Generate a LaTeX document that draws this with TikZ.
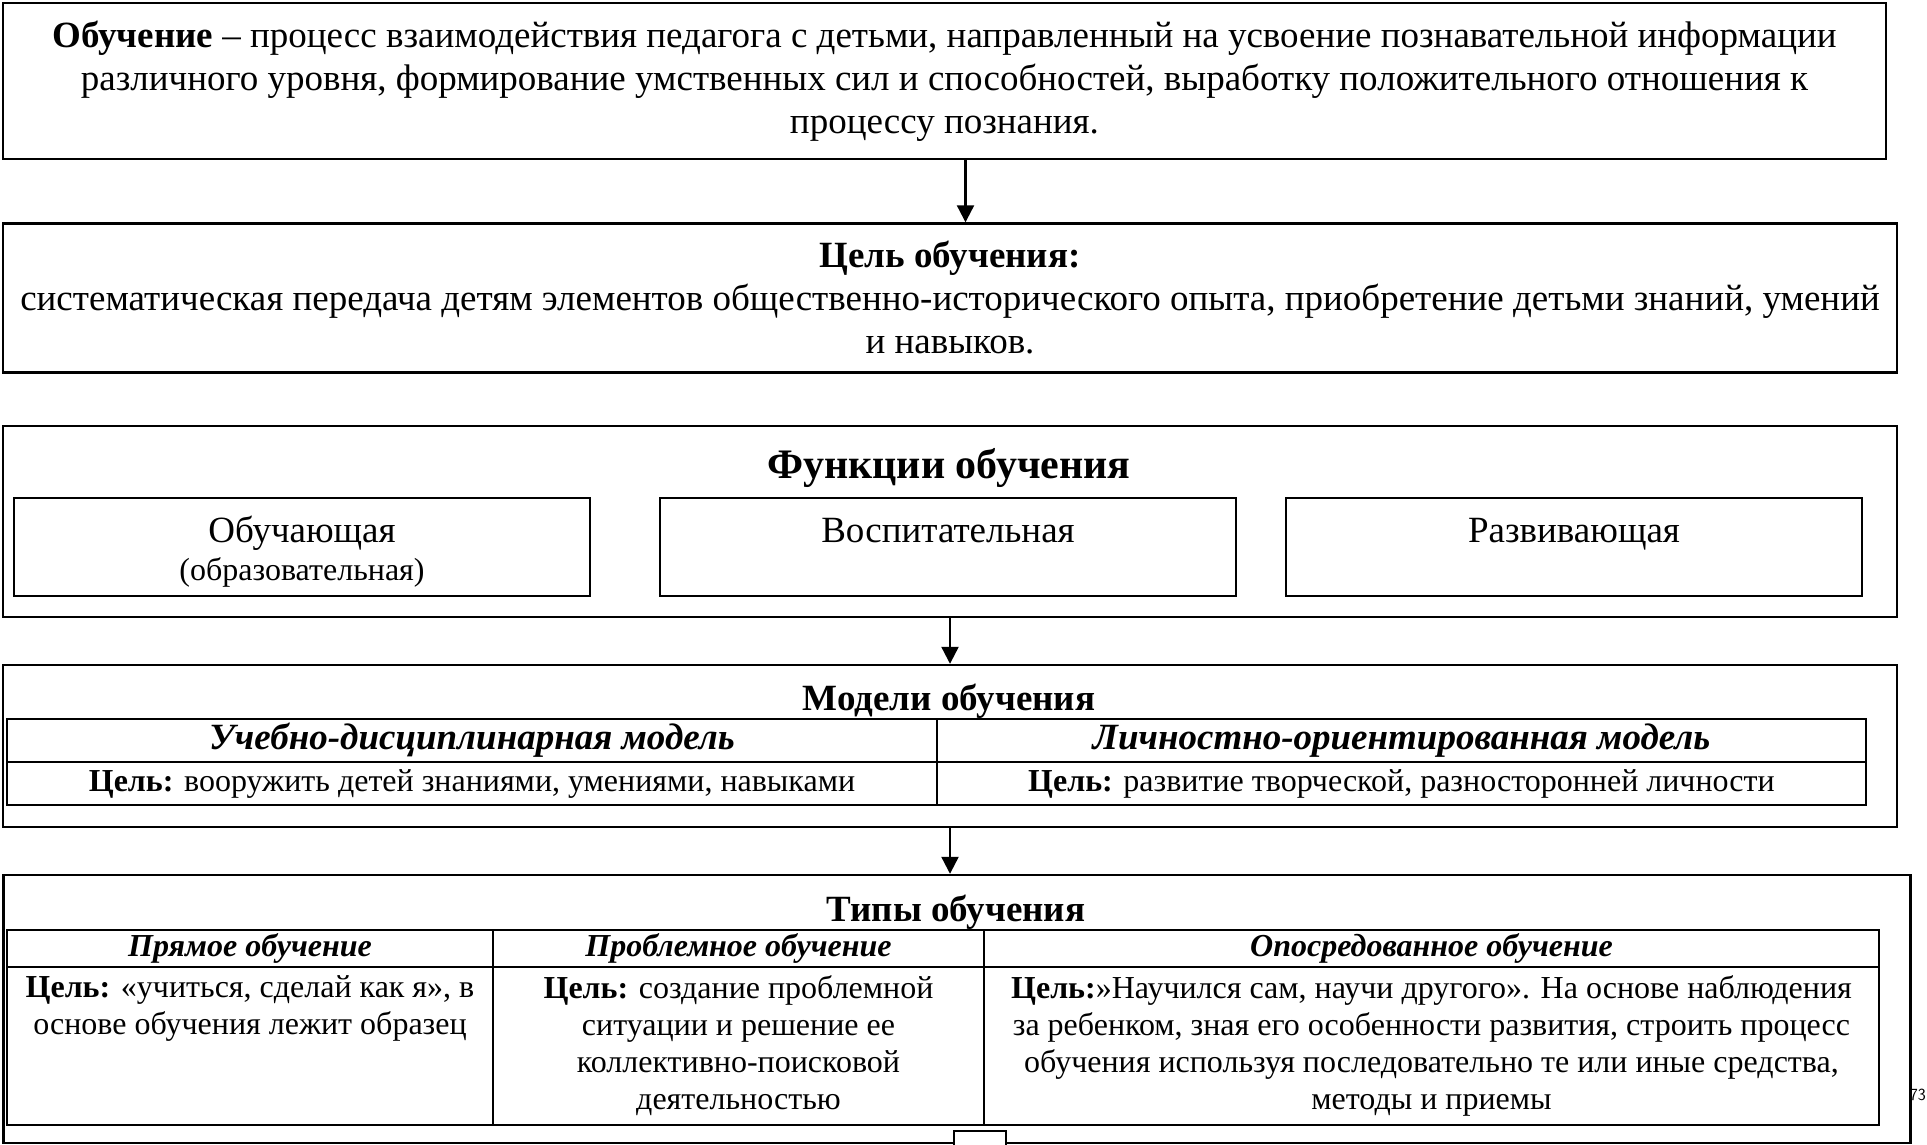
\documentclass[tikz,border=0pt]{standalone}
\usepackage{fontspec}
\setmainfont{Liberation Serif}
\usetikzlibrary{arrows,arrows.meta,calc,positioning}

\newcommand{\bigsz}{\fontsize{37}{43}\selectfont}
\newcommand{\headsz}{\fontsize{42}{48}\selectfont}
\newcommand{\cellsz}{\fontsize{32}{37}\selectfont}
\newcommand{\smallsz}{\fontsize{32}{36}\selectfont}

\tikzset{
  frame/.style={draw, line width=2.4pt, inner sep=0pt, align=center},
  cell/.style={draw, line width=2.2pt, inner sep=0pt},
  fname/.style={font=\bigsz, text height=26pt, text depth=8pt},
  arr/.style={-{Triangle[length=17pt,width=17pt]}, line width=2.2pt},
}

\begin{document}
\begin{tikzpicture}[x=1pt,y=1pt]
        \useasboundingbox (0,0) rectangle (1927,-1145);
        % Определение
        \node[frame, minimum width=1883pt, minimum height=156pt, font=\bigsz] (defbox) at (944.5,-81)
          {\textbf{Обучение} – процесс взаимодействия педагога с детьми, направленный на усвоение  познавательной информации\\
           различного уровня, формирование умственных сил и способностей,  выработку положительного отношения к\\
           процессу познания.};
        % Цель
        \node[frame, minimum width=1894pt, minimum height=149pt, font=\bigsz] (goalbox) at (950,-298)
          {\textbf{Цель обучения:}\\
           систематическая передача детям элементов общественно-исторического опыта, приобретение детьми знаний, умений\\
           и навыков.};
        \draw[arr] ([xshift=21pt]defbox.south) -- ([xshift=21pt]defbox.south |- goalbox.north);
        % Функции
        \node[frame, minimum width=1894pt, minimum height=191pt] (funcbox) at (950,-521.5) {};
        \node[font=\headsz\bfseries] (functitle) at (949,-468) {Функции обучения};
        \node[cell, minimum width=576pt, minimum height=98pt] (f1) at (302,-547) {};
        \node[cell, minimum width=576pt, minimum height=98pt] (f2) at (948,-547) {};
        \node[cell, minimum width=576pt, minimum height=98pt] (f3) at (1574,-547) {};
        \node[fname] (f1a) at (302,-533) {Обучающая};
        \node[font=\smallsz] (f1b) at (302,-572) {(образовательная)};
        \node[fname] (f2a) at (948,-533) {Воспитательная};
        \node[fname] (f3a) at (1574,-533) {Развивающая};
        % Модели
        \node[frame, minimum width=1894pt, minimum height=162pt] (modbox) at (950,-746) {};
        \draw[arr] (funcbox.south) -- (modbox.north);
        \node[font=\bigsz\bfseries] (modtitle) at (949,-701) {Модели обучения};
        \node[cell, minimum width=930pt, minimum height=43pt, font=\bigsz\bfseries\itshape] (m11) at (472,-740.5) {Учебно-дисциплинарная модель};
        \node[cell, minimum width=929pt, minimum height=43pt, font=\bigsz\bfseries\itshape] (m12) at (1401.5,-740.5) {Личностно-ориентированная модель};
        \node[cell, minimum width=930pt, minimum height=43pt, font=\cellsz] (m21) at (472,-783.5) {\textbf{Цель:} вооружить детей знаниями, умениями, навыками};
        \node[cell, minimum width=929pt, minimum height=43pt, font=\cellsz] (m22) at (1401.5,-783.5) {\textbf{Цель:} развитие творческой, разносторонней личности};
        % Типы
        \node[frame, minimum width=1907pt, minimum height=268pt] (typebox) at (957,-1009) {};
        \draw[arr] (modbox.south) -- (modbox.south |- typebox.north);
        \node[font=\bigsz\bfseries] (typetitle) at (956,-912) {Типы обучения};
        \node[cell, minimum width=486pt, minimum height=37pt, font=\cellsz\bfseries\itshape] (t11) at (250,-948.5) {Прямое обучение};
        \node[cell, minimum width=491pt, minimum height=37pt, font=\cellsz\bfseries\itshape] (t12) at (738.5,-948.5) {Проблемное обучение};
        \node[cell, minimum width=895pt, minimum height=37pt, font=\cellsz\bfseries\itshape] (t13) at (1431.5,-948.5) {Опосредованное обучение};
        \node[cell, minimum width=486pt, minimum height=158pt] (t21) at (250,-1046) {};
        \node[cell, minimum width=491pt, minimum height=158pt] (t22) at (738.5,-1046) {};
        \node[cell, minimum width=895pt, minimum height=158pt] (t23) at (1431.5,-1046) {};
        \node[font=\cellsz, align=center, anchor=north] (t21txt) at ([yshift=-6pt]t21.north)
          {\textbf{Цель:} «учиться, сделай как я», в\\ основе обучения лежит образец};
        \node[font=\cellsz, align=center, anchor=north] (t22txt) at ([yshift=-6pt]t22.north)
          {\textbf{Цель:} создание проблемной\\ ситуации и решение ее\\ коллективно-поисковой\\ деятельностью};
        \node[font=\cellsz, align=center, anchor=north] (t23txt) at ([yshift=-6pt]t23.north)
          {\textbf{Цель:}»Научился сам, научи другого». На основе наблюдения\\ за ребенком, зная его особенности развития, строить процесс\\ обучения используя последовательно те или иные средства,\\ методы и приемы};
        % продолжение схемы и номер страницы
        \node[cell, fill=white, minimum width=52pt, minimum height=40pt] (nextbox) at (980,-1151) {};
        \node[font=\fontsize{17}{20}\selectfont\sffamily, anchor=east, inner sep=0pt] (pagenum) at (1926,-1095) {73};
      \end{tikzpicture}
\end{document}
